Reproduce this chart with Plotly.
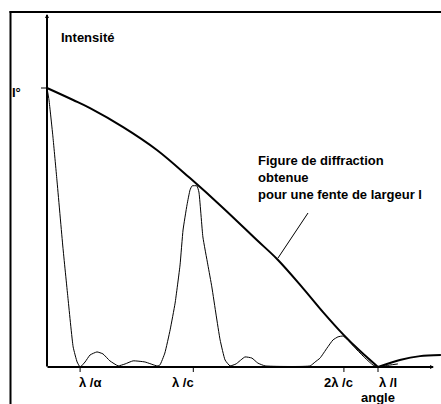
import plotly.graph_objects as go

# ---- data (angle in units of lambda/l, intensity relative to I0) ----
tick_vals = [0.100, 0.442, 0.897, 1.0]
tick_labels = ["λ /α", "λ /c", "2λ /c", "λ /l"]

envelope_x = [0.0, 0.079, 0.130, 0.230, 0.332, 0.432, 0.532, 0.634, 0.695, 0.773, 0.834, 0.894, 0.946, 1.0]
envelope_y = [1.0, 0.957, 0.928, 0.860, 0.778, 0.677, 0.570, 0.455, 0.387, 0.283, 0.197, 0.118, 0.057, 0.0]

lobe_x = [1.0, 1.066, 1.127, 1.190]
lobe_y = [0.0, 0.025, 0.039, 0.043]

pattern_x = [0.0, 0.006, 0.018, 0.030, 0.048, 0.063, 0.079, 0.091, 0.100, 0.115, 0.130, 0.151, 0.169,
             0.190, 0.215, 0.236, 0.260, 0.296, 0.332, 0.341, 0.356, 0.372, 0.387, 0.402, 0.411,
             0.423, 0.432, 0.438, 0.453, 0.459, 0.471, 0.486, 0.498, 0.511, 0.523, 0.538, 0.553,
             0.571, 0.598, 0.619, 0.637, 0.659, 0.795, 0.810, 0.825, 0.846, 0.864, 0.879, 0.894,
             0.906, 0.931, 0.961, 0.985, 1.0, 1.036, 1.060]
pattern_y = [1.0, 0.957, 0.824, 0.670, 0.430, 0.251, 0.072, 0.018, 0.0, 0.018, 0.043, 0.054, 0.047,
             0.022, 0.004, 0.011, 0.022, 0.018, 0.004, 0.007, 0.050, 0.133, 0.229, 0.366, 0.491,
             0.581, 0.634, 0.649, 0.649, 0.627, 0.466, 0.366, 0.287, 0.186, 0.097, 0.025, 0.004,
             0.011, 0.036, 0.032, 0.014, 0.004, 0.004, 0.018, 0.032, 0.068, 0.097, 0.108, 0.111,
             0.100, 0.068, 0.032, 0.007, 0.0, 0.007, 0.011]

# ---- pixel helpers for label placement ----
W, H = 441, 404
X0, XS = 47, 331     # pixel of angle 0, pixels per lambda/l
Y0, YS = 367, 279    # pixel of intensity 0, pixels per I0

def dx(px):
    return (px - X0) / XS

def dy(py):
    return (Y0 - py) / YS

FONT = dict(family="Liberation Sans, Arial, sans-serif", size=13, color="black", weight="bold")

fig = go.Figure()
fig.add_trace(go.Scatter(x=pattern_x, y=pattern_y, mode="lines",
                         line=dict(color="black", width=1, shape="spline", smoothing=0.4),
                         hoverinfo="skip"))
fig.add_trace(go.Scatter(x=envelope_x, y=envelope_y, mode="lines",
                         line=dict(color="black", width=2, shape="spline", smoothing=1.0),
                         hoverinfo="skip"))
fig.add_trace(go.Scatter(x=lobe_x, y=lobe_y, mode="lines",
                         line=dict(color="black", width=2, shape="spline", smoothing=0.8),
                         hoverinfo="skip"))

shapes = []
# frame
shapes.append(dict(type="line", xref="paper", yref="paper", x0=10.5 / W, x1=10.5 / W,
                   y0=-0.05, y1=1 - 11 / H, line=dict(color="black", width=2)))
shapes.append(dict(type="line", xref="paper", yref="paper", x0=9.5 / W, x1=1.05,
                   y0=1 - 12 / H, y1=1 - 12 / H, line=dict(color="black", width=2)))
# x ticks
for tv in tick_vals:
    shapes.append(dict(type="line", x0=tv, x1=tv, y0=0, y1=dy(372),
                       line=dict(color="black", width=1)))
# I0 tick
shapes.append(dict(type="line", x0=dx(41), x1=0, y0=1.0, y1=1.0,
                   line=dict(color="black", width=1)))
# pointer line to envelope
shapes.append(dict(type="line", x0=dx(308), y0=dy(213), x1=dx(278), y1=dy(258),
                   line=dict(color="black", width=1)))

annotations = []
# axes with arrows
annotations.append(dict(x=0, y=dy(14), ax=0, ay=dy(368), xref="x", yref="y", axref="x", ayref="y",
                        text="", showarrow=True, arrowhead=2, arrowsize=0.4, arrowwidth=2,
                        arrowcolor="black", standoff=0))
annotations.append(dict(x=dx(434), y=0, ax=dx(46), ay=0, xref="x", yref="y", axref="x", ayref="y",
                        text="", showarrow=True, arrowhead=2, arrowsize=0.4, arrowwidth=2,
                        arrowcolor="black", standoff=0))

# texts
annotations.append(dict(x=dx(59), y=dy(37), text="Intensité", showarrow=False,
                        xanchor="left", yanchor="middle", font=FONT))
annotations.append(dict(x=dx(23), y=dy(92), text="I°", showarrow=False,
                        xanchor="right", yanchor="middle", font=FONT))
annotations.append(dict(x=dx(256), y=dy(177), text="Figure de diffraction<br>obtenue<br>pour une fente de largeur l",
                        showarrow=False, xanchor="left", yanchor="middle", align="left", font=FONT))

label_left_px = [77, 170, 322, 377]
for lab, lp in zip(tick_labels, label_left_px):
    annotations.append(dict(x=dx(lp), y=dy(382), text=lab, showarrow=False,
                            xanchor="left", yanchor="middle", font=FONT))
annotations.append(dict(x=dx(378), y=dy(397), text="angle", showarrow=False,
                        xanchor="center", yanchor="middle", font=FONT))

fig.update_layout(
    width=W, height=H, autosize=False,
    margin=dict(l=0, r=0, t=0, b=0),
    paper_bgcolor="white", plot_bgcolor="white",
    showlegend=False,
    xaxis=dict(range=[dx(0), dx(W)], visible=False, fixedrange=True),
    yaxis=dict(range=[dy(H), dy(0)], visible=False, fixedrange=True),
    shapes=shapes, annotations=annotations,
)

fig.write_html("out.html", config=dict(displayModeBar=False))
